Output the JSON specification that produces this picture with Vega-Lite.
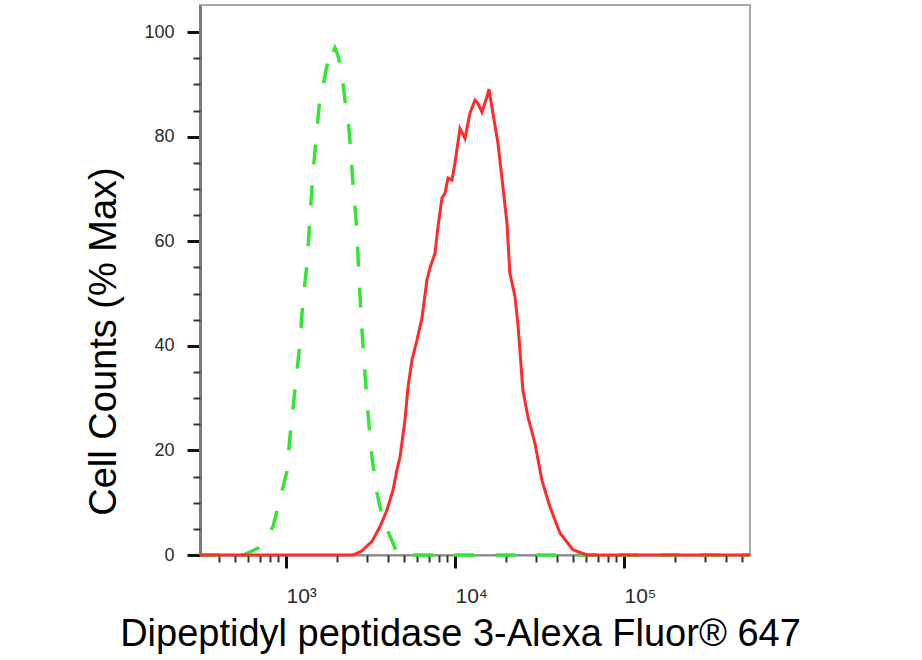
{
  "$schema": "https://vega.github.io/schema/vega-lite/v6.json",
  "width": 550,
  "height": 550,
  "autosize": {"type": "none"},
  "padding": {"left": 200, "top": 5, "right": 172, "bottom": 105},
  "background": "white",
  "config": {
    "view": {"stroke": "#a8a8a8", "strokeWidth": 2},
    "font": "Liberation Sans"
  },
  "datasets": {
    "control": [
      {"intensity": 310, "pct": 0},
      {"intensity": 560, "pct": 0},
      {"intensity": 683, "pct": 1.3},
      {"intensity": 838, "pct": 5.4},
      {"intensity": 1014, "pct": 16},
      {"intensity": 1056, "pct": 22.6},
      {"intensity": 1130, "pct": 31.5},
      {"intensity": 1210, "pct": 40.5},
      {"intensity": 1261, "pct": 48.8},
      {"intensity": 1331, "pct": 55.5},
      {"intensity": 1387, "pct": 64.6},
      {"intensity": 1445, "pct": 73},
      {"intensity": 1525, "pct": 81.3},
      {"intensity": 1589, "pct": 87.6},
      {"intensity": 1655, "pct": 89.5},
      {"intensity": 1720, "pct": 92.5},
      {"intensity": 1773, "pct": 94.3},
      {"intensity": 1830, "pct": 93.5},
      {"intensity": 1870, "pct": 95.5},
      {"intensity": 1950, "pct": 97},
      {"intensity": 2031, "pct": 95.6},
      {"intensity": 2144, "pct": 92.2},
      {"intensity": 2234, "pct": 87},
      {"intensity": 2328, "pct": 83.7},
      {"intensity": 2391, "pct": 79.3},
      {"intensity": 2490, "pct": 71.1},
      {"intensity": 2630, "pct": 62.1},
      {"intensity": 2700, "pct": 53.5},
      {"intensity": 2817, "pct": 43},
      {"intensity": 2933, "pct": 34.8},
      {"intensity": 3056, "pct": 27.2},
      {"intensity": 3228, "pct": 18.7},
      {"intensity": 3454, "pct": 11.9},
      {"intensity": 3749, "pct": 6.7},
      {"intensity": 4299, "pct": 2.3},
      {"intensity": 4539, "pct": 0.3},
      {"intensity": 4700, "pct": 0},
      {"intensity": 557000, "pct": 0}
    ],
    "sample": [
      {"intensity": 310, "pct": 0},
      {"intensity": 2490, "pct": 0},
      {"intensity": 2741, "pct": 0.6},
      {"intensity": 2817, "pct": 0.8},
      {"intensity": 3228, "pct": 2.6},
      {"intensity": 3599, "pct": 5.4},
      {"intensity": 3960, "pct": 8.6},
      {"intensity": 4299, "pct": 12.4},
      {"intensity": 4539, "pct": 16.3},
      {"intensity": 4728, "pct": 18.7},
      {"intensity": 5060, "pct": 25.8},
      {"intensity": 5274, "pct": 32.1},
      {"intensity": 5570, "pct": 37.3},
      {"intensity": 5960, "pct": 41.1},
      {"intensity": 6379, "pct": 45.3},
      {"intensity": 6826, "pct": 52.6},
      {"intensity": 7113, "pct": 54.9},
      {"intensity": 7617, "pct": 57.7},
      {"intensity": 7931, "pct": 62.7},
      {"intensity": 8377, "pct": 68.3},
      {"intensity": 8731, "pct": 69.2},
      {"intensity": 9100, "pct": 72.1},
      {"intensity": 9600, "pct": 71.7},
      {"intensity": 10000, "pct": 75},
      {"intensity": 10710, "pct": 81.6},
      {"intensity": 11460, "pct": 79.7},
      {"intensity": 12270, "pct": 84.5},
      {"intensity": 13130, "pct": 87},
      {"intensity": 13680, "pct": 86.4},
      {"intensity": 14450, "pct": 84.7},
      {"intensity": 15460, "pct": 87.6},
      {"intensity": 15890, "pct": 89.1},
      {"intensity": 16780, "pct": 84.5},
      {"intensity": 17960, "pct": 78.8},
      {"intensity": 19230, "pct": 70.4},
      {"intensity": 20310, "pct": 63.5},
      {"intensity": 21140, "pct": 53.9},
      {"intensity": 22650, "pct": 49.5},
      {"intensity": 23600, "pct": 44},
      {"intensity": 25240, "pct": 31.5},
      {"intensity": 27040, "pct": 26.4},
      {"intensity": 29720, "pct": 21.4},
      {"intensity": 32700, "pct": 14.3},
      {"intensity": 36500, "pct": 9.2},
      {"intensity": 41800, "pct": 4.2},
      {"intensity": 49900, "pct": 1},
      {"intensity": 60400, "pct": 0},
      {"intensity": 557000, "pct": 0}
    ]
  },
  "layer": [
    {
      "data": {"name": "control"},
      "mark": {"type": "line", "color": "#33e633", "strokeWidth": 3.5, "strokeDash": [20, 21]},
      "encoding": {
        "x": {
          "field": "intensity",
          "type": "quantitative",
          "scale": {"type": "log", "domain": [310, 557000], "nice": false},
          "axis": {
            "orient": "bottom",
            "values": [1000, 10000, 100000],
            "labelExpr": "'10' + (datum.value == 1000 ? '³' : datum.value == 10000 ? '⁴' : '⁵')",
            "grid": false,
            "domainColor": "#8a8a8a",
            "domainWidth": 2,
            "tickColor": "#111111",
            "tickWidth": 3,
            "tickSize": 13,
            "labelFont": "Liberation Sans",
            "labelFontSize": 21,
            "labelColor": "#2a2a2a",
            "labelAlign": "left",
            "labelBaseline": "alphabetic",
            "labelPadding": 34,
            "title": "Dipeptidyl peptidase 3-Alexa Fluor® 647",
            "titleFont": "Liberation Sans",
            "titleFontSize": 38,
            "titleFontWeight": "normal",
            "titleColor": "#000000",
            "titleX": 260,
            "titleY": 90,
            "titleAlign": "center",
            "titleBaseline": "alphabetic"
          }
        },
        "y": {
          "field": "pct",
          "type": "quantitative",
          "scale": {"domain": [0, 105.2], "nice": false, "zero": false},
          "axis": {
            "orient": "left",
            "values": [0, 20, 40, 60, 80, 100],
            "grid": false,
            "domainColor": "#7a7a7a",
            "domainWidth": 3,
            "tickColor": "#111111",
            "tickWidth": 3,
            "tickSize": 13,
            "labelFont": "Liberation Sans",
            "labelFontSize": 18,
            "labelColor": "#2a2a2a",
            "labelPadding": 13,
            "title": "Cell Counts (% Max)",
            "titleFont": "Liberation Sans",
            "titleFontSize": 38,
            "titleFontWeight": "normal",
            "titleColor": "#000000",
            "titleAngle": -90,
            "titleX": -85,
            "titleY": 336,
            "titleAlign": "center",
            "titleBaseline": "alphabetic"
          }
        }
      }
    },
    {
      "data": {"name": "sample"},
      "mark": {"type": "line", "color": "#ff2a2a", "strokeWidth": 3},
      "encoding": {
        "x": {
          "field": "intensity",
          "type": "quantitative",
          "scale": {"type": "log", "domain": [310, 557000], "nice": false},
          "axis": {
            "orient": "bottom",
            "values": [400, 500, 600, 700, 800, 900, 2000, 3000, 4000, 5000, 6000, 7000, 8000, 9000, 20000, 30000, 40000, 50000, 60000, 70000, 80000, 90000, 200000, 300000, 400000, 500000],
            "labels": false,
            "domain": false,
            "grid": false,
            "tickColor": "#333333",
            "tickWidth": 2,
            "tickSize": 7,
            "title": null
          }
        },
        "y": {
          "field": "pct",
          "type": "quantitative",
          "scale": {"domain": [0, 105.2], "nice": false, "zero": false},
          "axis": {
            "orient": "left",
            "values": [5, 10, 15, 25, 30, 35, 45, 50, 55, 65, 70, 75, 85, 90, 95],
            "labels": false,
            "domain": false,
            "grid": false,
            "tickColor": "#333333",
            "tickWidth": 2,
            "tickSize": 7,
            "title": null
          }
        }
      }
    }
  ],
  "resolve": {"axis": {"x": "independent", "y": "independent"}}
}
